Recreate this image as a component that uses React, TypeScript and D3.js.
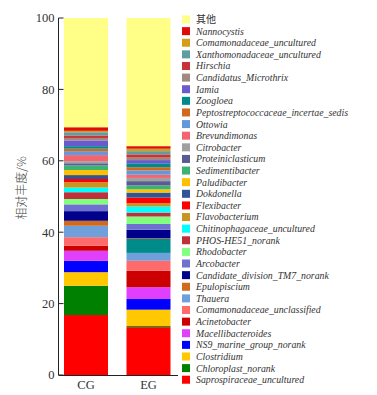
import React from "react";
import * as d3 from "d3";

const samples = ["CG", "EG"];

// legend order (top to bottom)
const legendNames = [
  "其他",
  "Nannocystis",
  "Comamonadaceae_uncultured",
  "Xanthomonadaceae_uncultured",
  "Hirschia",
  "Candidatus_Microthrix",
  "Iamia",
  "Zoogloea",
  "Peptostreptococcaceae_incertae_sedis",
  "Ottowia",
  "Brevundimonas",
  "Citrobacter",
  "Proteiniclasticum",
  "Sedimentibacter",
  "Paludibacter",
  "Dokdonella",
  "Flexibacter",
  "Flavobacterium",
  "Chitinophagaceae_uncultured",
  "PHOS-HE51_norank",
  "Rhodobacter",
  "Arcobacter",
  "Candidate_division_TM7_norank",
  "Epulopiscium",
  "Thauera",
  "Comamonadaceae_unclassified",
  "Acinetobacter",
  "Macellibacteroides",
  "NS9_marine_group_norank",
  "Clostridium",
  "Chloroplast_norank",
  "Saprospiraceae_uncultured",
];

const legendColors = [
  "#ffff88", "#e00a0a", "#d39e1a", "#5f9ea0", "#c83238", "#a08a80", "#6a5acd", "#008b8b",
  "#d2691e", "#6399d8", "#f26470", "#a0a0a0", "#5a5a96", "#3cb371", "#ffc000", "#2f5597",
  "#ff0000", "#c8961e", "#00ffff", "#c0303a", "#80ff80", "#7070d0", "#00008b", "#d06a1e",
  "#6fa0dc", "#ff6b6b", "#cc0000", "#e040fb", "#0000ff", "#ffc800", "#008000", "#ff0000",
];

// values (%) in legend order
const valuesCG = [
  30.6, 1.0, 0.4, 0.9, 0.7, 0.7, 1.6, 0.7, 0.7, 1.1, 1.7, 0.6, 0.6, 1.3, 1.4, 1.1,
  0.9, 1.5, 1.3, 1.9, 1.5, 1.9, 2.7, 1.4, 3.2, 2.4, 1.4, 2.8, 3.2, 3.8, 8.2, 16.8,
];
const valuesEG = [
  35.9, 0.7, 0.7, 0.9, 0.9, 0.7, 0.9, 1.1, 0.9, 1.2, 0.9, 0.9, 1.2, 1.1, 0.9, 1.4,
  1.6, 0.9, 1.7, 1.1, 2.1, 1.6, 2.4, 0.2, 2.2, 2.8, 4.6, 3.3, 3.0, 4.6, 0.3, 13.4,
];

// unlabelled teal block visible in EG between Thauera and Epulopiscium
const extraName = "teal_block";
const extraColor = "#008b8b";
const extraValues = [0, 3.9];

const yTicks = [0, 20, 40, 60, 80, 100];

export default function App() {
  const W = 377;
  const H = 395;
  const x = d3.scaleBand<string>().domain(samples).range([64, 170.5]).paddingInner(0.296).paddingOuter(0);
  const y = d3.scaleLinear().domain([0, 100]).range([375, 18]);

  const legendBottomUp = legendNames.map((n, i) => i).reverse();
  const keys: string[] = [];
  const colorOf: Record<string, string> = {};
  const rows: Record<string, any>[] = samples.map((s) => ({ sample: s }));
  legendBottomUp.forEach((i) => {
    const name = legendNames[i];
    if (name === "Epulopiscium") {
      keys.push(extraName);
      colorOf[extraName] = extraColor;
      rows[0][extraName] = extraValues[0];
      rows[1][extraName] = extraValues[1];
    }
    keys.push(name);
    colorOf[name] = legendColors[i];
    rows[0][name] = valuesCG[i];
    rows[1][name] = valuesEG[i];
  });

  const stacked = d3.stack<any>().keys(keys)(rows);

  const axisX = 58.5;
  const legendX = 182;
  const legendY0 = 19.5;
  const legendStep = 11.62;

  return (
    <svg width={W} height={H} style={{ position: "absolute", left: 0, top: 0, background: "#fff" }}>
      {stacked.map((layer) => (
        <g key={layer.key} fill={colorOf[layer.key]}>
          {layer.map((d, j) => {
            const h = y(d[0]) - y(d[1]);
            if (h <= 0) return null;
            return (
              <rect key={j} x={x(samples[j])} y={y(d[1])} width={x.bandwidth()} height={h} />
            );
          })}
        </g>
      ))}

      {/* y axis */}
      <line x1={axisX} x2={axisX} y1={y(100)} y2={y(0)} stroke="#222" strokeWidth={1} />
      {yTicks.map((t) => (
        <g key={t}>
          <line x1={axisX} x2={axisX + 5} y1={y(t)} y2={y(t)} stroke="#222" strokeWidth={1} />
          <text
            x={axisX - 4}
            y={y(t)}
            dy="0.35em"
            textAnchor="end"
            fontFamily="'Liberation Serif', serif"
            fontSize={12.5}
            fill="#333"
          >
            {t}
          </text>
        </g>
      ))}
      {/* x axis */}
      <line x1={axisX} x2={178} y1={y(0) + 0.5} y2={y(0) + 0.5} stroke="#222" strokeWidth={1} />
      {samples.map((s) => (
        <text
          key={s}
          x={(x(s) as number) + x.bandwidth() / 2}
          y={389}
          textAnchor="middle"
          fontFamily="'Liberation Serif', serif"
          fontSize={12.5}
          fill="#333"
        >
          {s}
        </text>
      ))}
      <text
        transform={`translate(26,188) rotate(-90)`}
        textAnchor="middle"
        fontFamily="'Noto Sans CJK SC', sans-serif"
        fontSize={12}
        fontWeight={300}
        fill="#444"
      >
        相对丰度/%
      </text>

      {/* legend */}
      {legendNames.map((n, i) => (
        <g key={n} transform={`translate(${legendX},${legendY0 + i * legendStep})`}>
          <rect x={0} y={-4} width={8} height={8} fill={legendColors[i]} />
          <text
            x={14}
            y={0}
            dy="0.35em"
            fontFamily={i === 0 ? "'Noto Sans CJK SC', sans-serif" : "'Liberation Serif', serif"}
            fontStyle={i === 0 ? "normal" : "italic"}
            fontSize={i === 0 ? 10 : 9.8}
            fill="#333"
          >
            {n}
          </text>
        </g>
      ))}
    </svg>
  );
}
